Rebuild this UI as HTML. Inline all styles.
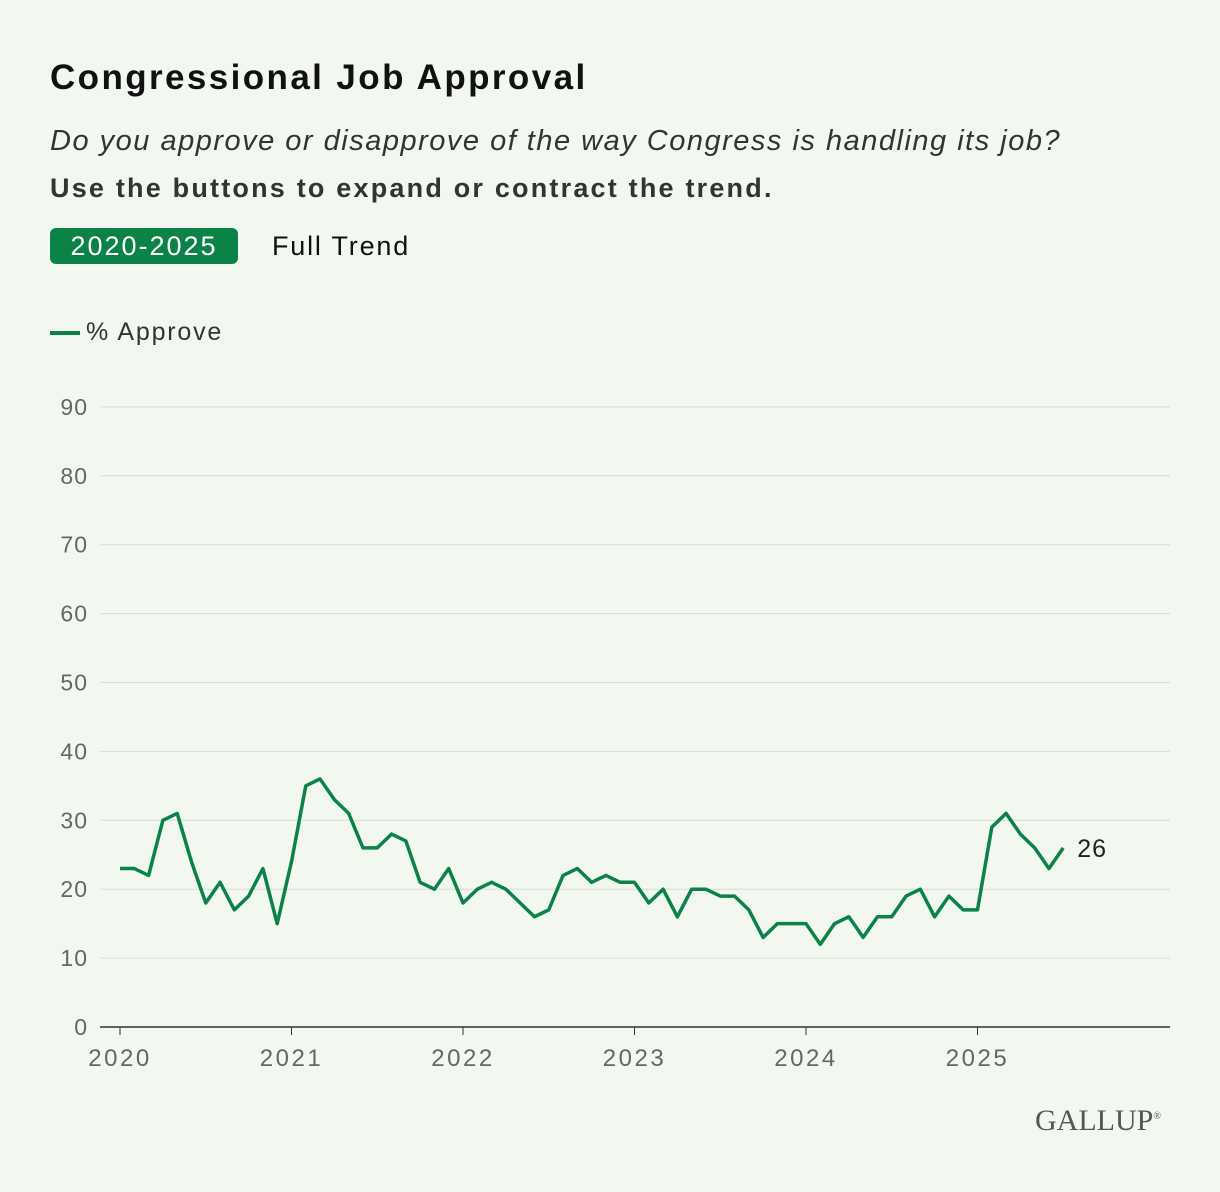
<!DOCTYPE html>
<html><head><meta charset="utf-8"><style>
body{margin:0;background:#f2f7f0;font-family:"Liberation Sans",sans-serif;}
#wrap{position:relative;width:1220px;height:1192px;overflow:hidden;}
.t{position:absolute;white-space:nowrap;}
</style></head><body>
<div id="wrap">
<div class="t" style="left:50px;top:58px;font-size:35px;font-weight:bold;color:#111;letter-spacing:2.4px;">Congressional Job Approval</div>
<div class="t" style="left:50px;top:125px;font-size:29px;font-style:italic;color:#333;letter-spacing:1.5px;">Do you approve or disapprove of the way Congress is handling its job?</div>
<div class="t" style="left:50px;top:173px;font-size:27px;font-weight:bold;color:#333;letter-spacing:2.2px;">Use the buttons to expand or contract the trend.</div>
<div class="t" style="left:50px;top:228px;width:188px;height:36px;background:#0b8346;border-radius:6px;color:#fff;font-size:27px;line-height:36px;text-align:center;letter-spacing:2px;">2020-2025</div>
<div class="t" style="left:272px;top:228px;font-size:27px;line-height:36px;color:#111;letter-spacing:1.8px;">Full Trend</div>
<div class="t" style="left:50px;top:318px;font-size:25px;color:#333;letter-spacing:1.8px;"><span style="display:inline-block;width:30px;height:4px;background:#0b8346;vertical-align:middle;margin-right:6px;"></span>% Approve</div>
<div class="t" style="left:1035px;top:1104px;font-family:'Liberation Serif',serif;font-size:30px;color:#555;">GALLUP<sup style="font-size:10px">®</sup></div>
<svg id="chart" width="1220" height="1192" style="position:absolute;left:0;top:0"></svg>
</div>
<script>
const yTicks=[0,10,20,30,40,50,60,70,80,90];
const xYears=[2020,2021,2022,2023,2024,2025];
const approve=[23,23,22,30,31,24,18,21,17,19,23,15,
24,35,36,33,31,26,26,28,27,21,20,23,
18,20,21,20,18,16,17,22,23,21,22,21,
21,18,20,16,20,20,19,19,17,13,15,15,
15,12,15,16,13,16,16,19,20,16,19,17,
17,29,31,28,26,23,26];
const NS="http://www.w3.org/2000/svg";
const svg=document.getElementById('chart');
const x0=120,yearW=171.5;
const xs=i=>x0+i*yearW/12;
const xy=yr=>x0+(yr-2020)*yearW;
const ys=v=>1027-v*6.89;
function mk(t,a){const e=document.createElementNS(NS,t);for(const k in a)e.setAttribute(k,a[k]);svg.appendChild(e);return e;}
yTicks.forEach(v=>{
 const l=mk('line',{x1:100,x2:1170,y1:ys(v),y2:ys(v),stroke:v===0?'#333':'#d8ddd6','stroke-width':v===0?1.5:1});
 
 
 const t=mk('text',{x:88,y:ys(v)+8,'text-anchor':'end','font-size':23,fill:'#666','font-family':'Liberation Sans, sans-serif','letter-spacing':1});
 t.textContent=v;
 
 
});
xYears.forEach(yr=>{
 const tk=mk('line',{x1:xy(yr),x2:xy(yr),y1:1027,y2:1035,stroke:'#333','stroke-width':1});
 
 
 const t=mk('text',{x:xy(yr),y:1066,'text-anchor':'middle','font-size':24,fill:'#666','font-family':'Liberation Sans, sans-serif','letter-spacing':2.5});
 t.textContent=yr;
 
 
});
const p=mk('polyline',{points:approve.map((v,i)=>xs(i)+','+ys(v)).join(' '),fill:'none',stroke:'#0b8346','stroke-width':3.5,'stroke-linejoin':'round'});


const li=approve.length-1;
const lab=mk('text',{x:xs(li)+14,y:ys(approve[li])+9,'font-size':25,fill:'#222','font-family':'Liberation Sans, sans-serif','letter-spacing':1});
lab.textContent=approve[li];


</script>
</body></html>
